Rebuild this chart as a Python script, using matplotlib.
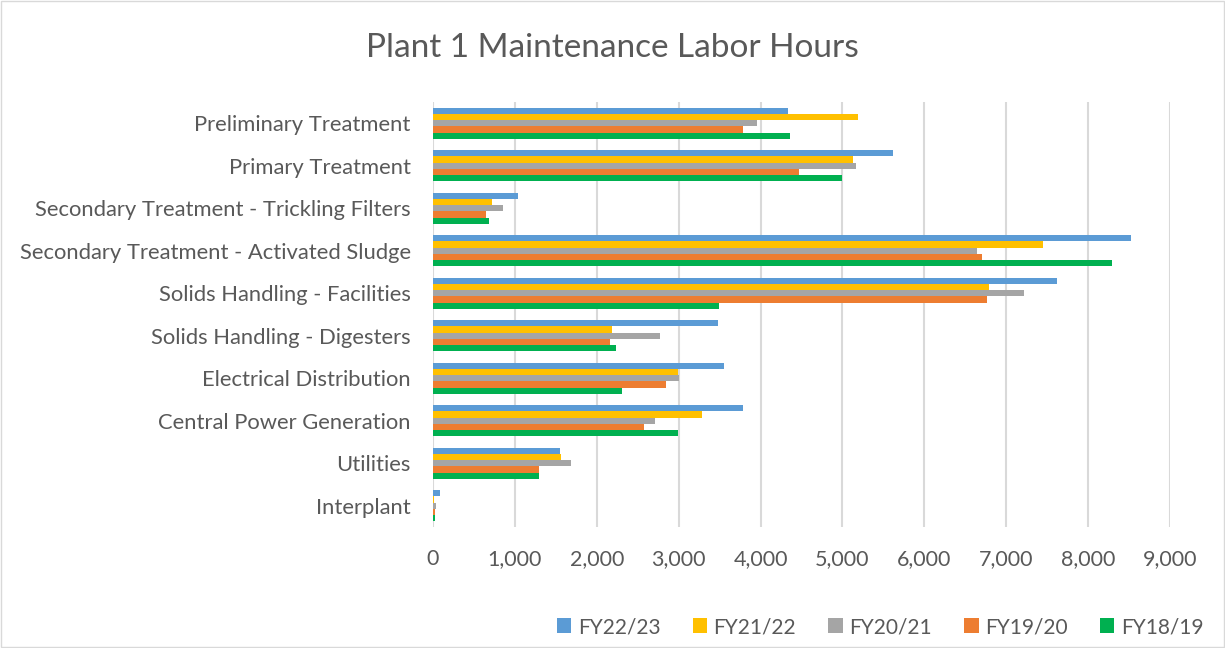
import numpy as np
import matplotlib.pyplot as plt
from matplotlib.ticker import FuncFormatter

# Labor hours by process area, one list per fiscal year
categories = [
    "Preliminary Treatment",
    "Primary Treatment",
    "Secondary Treatment - Trickling Filters",
    "Secondary Treatment - Activated Sludge",
    "Solids Handling - Facilities",
    "Solids Handling - Digesters",
    "Electrical Distribution",
    "Central Power Generation",
    "Utilities",
    "Interplant",
]
fy2223 = [4340, 5620, 1035, 8520, 7620, 3480, 3550, 3785, 1545, 80]
fy2122 = [5190, 5130, 715, 7455, 6790, 2180, 2990, 3280, 1560, 15]
fy2021 = [3960, 5170, 855, 6640, 7220, 2770, 3005, 2705, 1680, 37]
fy1920 = [3780, 4470, 650, 6710, 6760, 2165, 2840, 2580, 1290, 20]
fy1819 = [4360, 5000, 685, 8290, 3495, 2240, 2305, 2995, 1300, 29]

series = [("FY22/23", fy2223, "#5b9bd5"),
          ("FY21/22", fy2122, "#ffc000"),
          ("FY20/21", fy2021, "#a5a5a5"),
          ("FY19/20", fy1920, "#ed7d31"),
          ("FY18/19", fy1819, "#00b050")]

plt.rcParams['font.family'] = ['Lato', 'DejaVu Sans']

fig = plt.figure(figsize=(12.25, 6.48), dpi=100)
ax = fig.add_axes([433 / 1225, 1 - 527 / 648, (1170 - 433) / 1225, (527 - 102) / 648])

y = np.arange(len(categories))
bar_h = 0.148
for i, (name, vals, col) in enumerate(series):
    # first series sits on top of each group
    offset = (i - 2) * bar_h
    ax.barh(y + offset, vals, height=bar_h, color=col, label=name, zorder=3)

ax.set_ylim(len(categories) - 0.5, -0.5)
ax.set_yticks(y)
ax.set_yticklabels(categories, fontsize=15.8, color="#595959")
ax.set_xlim(0, 9000)
ax.set_xticks(np.arange(0, 9001, 1000))
ax.xaxis.set_major_formatter(FuncFormatter(lambda v, p: f"{int(v):,}"))
ax.tick_params(axis='x', labelsize=15.5, colors="#595959", length=0, pad=16)
ax.tick_params(axis='y', length=0, pad=16)
ax.grid(axis='x', color="#d9d9d9", linewidth=1.5, zorder=0)
for s in ax.spines.values():
    s.set_visible(False)

fig.text(0.5, 1 - 48 / 648, "Plant 1 Maintenance Labor Hours",
         ha='center', va='center', fontsize=24, color="#595959")

handles, labels = ax.get_legend_handles_labels()
fig.legend(handles, labels, loc='center', bbox_to_anchor=(880 / 1225, 1 - 627 / 648),
           ncol=5, frameon=False, fontsize=15, labelcolor="#595959",
           handlelength=0.7, handleheight=0.7, handletextpad=0.3, columnspacing=1.55)

# thin border around the chart area
fig.patches.append(plt.Rectangle((0.001, 0.001), 0.998, 0.997, transform=fig.transFigure,
                                 fill=False, edgecolor="#d9d9d9", linewidth=1))

fig.savefig("out.png", dpi=100, facecolor="white")
